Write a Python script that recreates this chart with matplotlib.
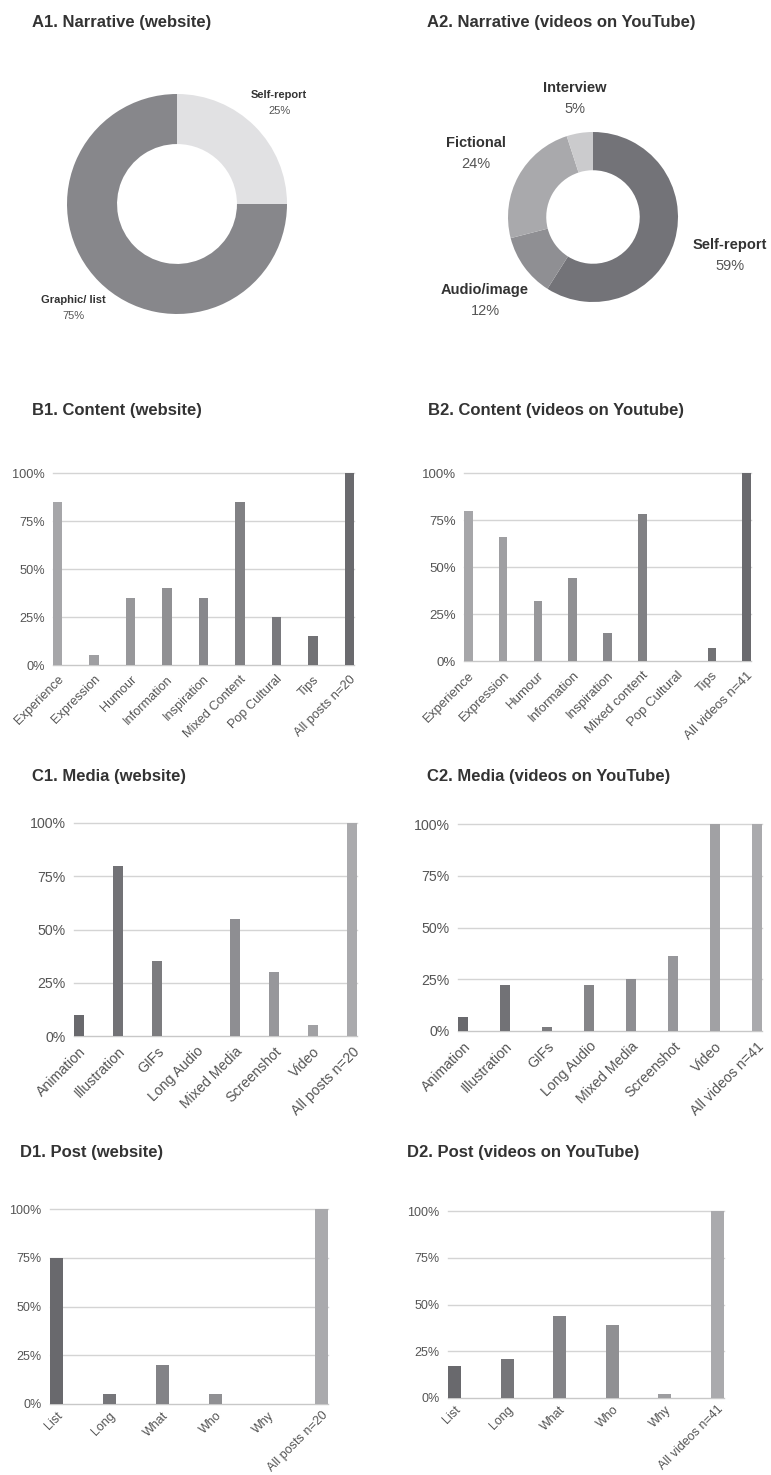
import numpy as np
import matplotlib
matplotlib.use("Agg")
import matplotlib.pyplot as plt
import matplotlib.transforms as mtransforms
from matplotlib.colors import to_rgb

plt.rcParams['font.family'] = ['Liberation Sans', 'DejaVu Sans']

# ---------------------------------------------------------------- data
a1_labels = ["Self-report", "Graphic/ list"]
a1_values = [25, 75]

a2_labels = ["Self-report", "Audio/image", "Fictional", "Interview"]
a2_values = [59, 12, 24, 5]

b1_cats = ["Experience", "Expression", "Humour", "Information", "Inspiration",
           "Mixed Content", "Pop Cultural", "Tips", "All posts n=20"]
b1_values = [85, 5, 35, 40, 35, 85, 25, 15, 100]

b2_cats = ["Experience", "Expression", "Humour", "Information", "Inspiration",
           "Mixed content", "Pop Cultural", "Tips", "All videos n=41"]
b2_values = [80, 66, 32, 44, 15, 78, 0, 7, 100]

c1_cats = ["Animation", "Illustration", "GIFs", "Long Audio", "Mixed Media",
           "Screenshot", "Video", "All posts n=20"]
c1_values = [10, 80, 35, 0, 55, 30, 5, 100]

c2_cats = ["Animation", "Illustration", "GIFs", "Long Audio", "Mixed Media",
           "Screenshot", "Video", "All videos n=41"]
c2_values = [7, 22, 2, 22, 25, 36, 100, 100]

d1_cats = ["List", "Long", "What", "Who", "Why", "All posts n=20"]
d1_values = [75, 5, 20, 5, 0, 100]

d2_cats = ["List", "Long", "What", "Who", "Why", "All videos n=41"]
d2_values = [17, 21, 44, 39, 2, 100]

yticks = [0, 25, 50, 75, 100]

# ---------------------------------------------------------------- layout
W, H = 771, 1475
fig = plt.figure(figsize=(W / 100, H / 100), dpi=100)

TITLE_C = "#333333"
TICK_C = "#555555"
GRID_C = "#d4d4d4"


def px_axes(x0, y0, x1, y1):
    return fig.add_axes([x0 / W, 1 - y1 / H, (x1 - x0) / W, (y1 - y0) / H])


def title(x, y, s):
    fig.text(x / W, 1 - y / H, s, fontsize=12, fontweight="bold",
             color=TITLE_C, va="center", ha="left")


def gradient(c0, c1, n):
    a, b = np.array(to_rgb(c0)), np.array(to_rgb(c1))
    return [tuple(a + (b - a) * t) for t in np.linspace(0, 1, n)]


def bar_chart(box, cats, vals, colors, fs=9.2, pad=6):
    ax = px_axes(*box)
    n = len(cats)
    w = 0.25
    x = np.arange(n)
    ax.bar(x, vals, width=w, color=colors, zorder=3)
    ax.set_xlim(-w / 2, n - 1 + w / 2)
    ax.set_ylim(0, 100)
    for t in yticks:
        ax.axhline(t, color="#c8c8c8" if t == 0 else GRID_C, lw=1.0,
                   zorder=1, clip_on=False)
    ax.set_yticks(yticks)
    ax.set_yticklabels(["%d%%" % t for t in yticks], fontsize=fs, color=TICK_C)
    ax.set_xticks(x)
    offset = mtransforms.ScaledTranslation(8 / 100, 0, fig.dpi_scale_trans)
    ax.set_xticklabels(cats, rotation=45, ha="right", va="top",
                       rotation_mode="anchor", fontsize=fs, color=TICK_C)
    for lab in ax.get_xticklabels():
        lab.set_transform(lab.get_transform() + offset)
    ax.tick_params(axis="y", length=0, pad=6)
    ax.tick_params(axis="x", length=0, pad=pad)
    for s in ax.spines.values():
        s.set_visible(False)
    return ax


# ---------------------------------------------------------------- A1
title(32, 22, "A1. Narrative (website)")
ax = px_axes(67, 94, 287, 314)
ax.pie(a1_values, colors=["#e1e1e3", "#87878b"], startangle=90,
       counterclock=False, wedgeprops=dict(width=0.455, edgecolor="none"))
ax.set_xlim(-1, 1)
ax.set_ylim(-1, 1)
a1_pos = [(0.93, 0.99), (-0.94, -0.87)]
for lab, v, (dx, dy) in zip(a1_labels, a1_values, a1_pos):
    ax.text(dx, dy, lab, ha="center", va="center", fontsize=8,
            fontweight="bold", color=TITLE_C)
    ax.text(dx, dy - 0.145, "%d%%" % v, ha="center", va="center",
            fontsize=8, color=TICK_C)

# ---------------------------------------------------------------- A2
title(427, 22, "A2. Narrative (videos on YouTube)")
ax = px_axes(508, 132, 678, 302)
ax.pie(a2_values, colors=["#737378", "#8f8f93", "#a9a9ac", "#cbcbcd"],
       startangle=90, counterclock=False,
       wedgeprops=dict(width=0.45, edgecolor="none"))
ax.set_xlim(-1, 1)
ax.set_ylim(-1, 1)
a2_pos = [(1.61, -0.33), (-1.27, -0.86), (-1.38, 0.87), (-0.21, 1.52)]
for lab, v, (dx, dy) in zip(a2_labels, a2_values, a2_pos):
    ax.text(dx, dy, lab, ha="center", va="center", fontsize=10.5,
            fontweight="bold", color=TITLE_C, clip_on=False)
    ax.text(dx, dy - 0.25, "%d%%" % v, ha="center", va="center",
            fontsize=10.5, color=TICK_C, clip_on=False)

# ---------------------------------------------------------------- B
title(32, 410, "B1. Content (website)")
bar_chart((53, 473, 354, 665), b1_cats, b1_values,
          gradient("#a6a6a9", "#6a6a6e", len(b1_cats)))

title(428, 410, "B2. Content (videos on Youtube)")
bar_chart((464, 473, 751, 661), b2_cats, b2_values,
          gradient("#a6a6a9", "#6a6a6e", len(b2_cats)), fs=9.5)

# ---------------------------------------------------------------- C
title(32, 776, "C1. Media (website)")
bar_chart((74, 823, 357, 1036), c1_cats, c1_values,
          gradient("#69696d", "#aaaaad", len(c1_cats)), fs=10.2)

title(427, 776, "C2. Media (videos on YouTube)")
bar_chart((458, 824, 762, 1031), c2_cats, c2_values,
          gradient("#69696d", "#aaaaad", len(c2_cats)), fs=10.2)

# ---------------------------------------------------------------- D
title(20, 1153, "D1. Post (website)")
bar_chart((50, 1209, 328, 1404), d1_cats, d1_values,
          gradient("#69696d", "#aaaaad", len(d1_cats)), fs=9.0, pad=4)

title(407, 1153, "D2. Post (videos on YouTube)")
bar_chart((448, 1211, 724, 1398), d2_cats, d2_values,
          gradient("#69696d", "#aaaaad", len(d2_cats)), fs=9.0, pad=4)

fig.savefig("out.png", dpi=100, facecolor="white")
